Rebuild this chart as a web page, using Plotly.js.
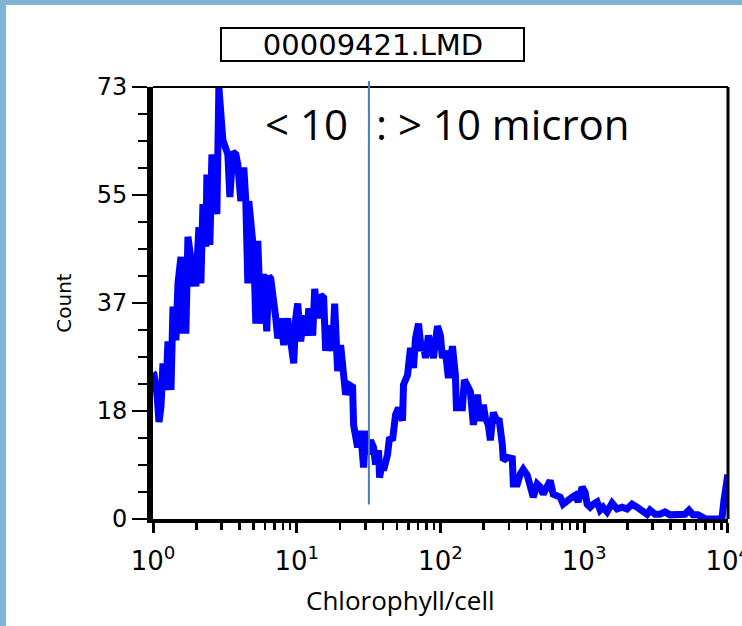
<!DOCTYPE html>
<html>
<head>
<meta charset="utf-8">
<script src="https://cdn.plot.ly/plotly-3.0.1.min.js"></script>
<style>
  html, body { margin: 0; padding: 0; background: #ffffff; }
  #chart { width: 742px; height: 626px; }
</style>
</head>
<body>
<div id="chart"></div>
<script>
// ---- data ----
const fileName = "00009421.LMD";
const xTitle = "Chlorophyll/cell";
const yTitle = "Count";
const leftLabel = "< 10";
const rightLabel = ": > 10 micron";

// chlorophyll per cell (log axis)
const chlorophyll = [
  1.000, 1.016, 1.066, 1.101, 1.137, 1.173, 1.231, 1.271, 1.334, 1.377,
  1.444, 1.492, 1.565, 1.616, 1.695, 1.750, 1.836, 1.896, 1.926, 1.988,
  2.086, 2.154, 2.225, 2.334, 2.371, 2.488, 2.569, 2.653, 2.783, 2.873,
  3.063, 3.213, 3.318, 3.426, 3.594, 3.771, 3.893, 4.084, 4.285, 4.424,
  4.568, 4.642, 4.793, 5.028, 5.192, 5.361, 5.623, 5.899, 6.189, 6.390,
  6.598, 6.813, 7.147, 7.380, 7.743, 8.122, 8.660, 9.085, 9.532, 9.841,
  10.16, 10.66, 11.18, 11.92, 12.12, 12.92, 13.34, 13.99, 14.68, 15.40,
  15.90, 16.68, 17.78, 18.36, 19.26, 20.21, 21.20, 21.89, 22.97, 24.48,
  24.88, 26.53, 27.83, 29.20, 30.15, 31.62, 32.65, 34.25, 35.37, 37.11,
  37.71, 39.56, 40.19, 42.85, 44.24, 46.42, 48.70, 51.10, 54.48, 55.36,
  59.02, 61.90, 64.94, 67.06, 70.36, 73.81, 76.21, 78.68, 82.54, 88.01,
  89.43, 95.35, 100.0, 103.2, 108.3, 113.6, 117.3, 121.2, 127.1, 129.2,
  142.2, 146.8, 156.5, 161.6, 169.5, 180.7, 189.6, 198.9, 205.4, 215.4,
  222.5, 233.4, 244.8, 256.8, 269.5, 273.8, 291.9, 316.2, 321.4, 342.6,
  359.4, 377.0, 401.9, 421.7, 442.4, 471.6, 494.9, 519.2, 553.5, 580.7,
  609.2, 649.4, 681.3, 714.7, 762.0, 825.4, 865.9, 908.5, 968.5, 1016,
  1049, 1101, 1155, 1231, 1292, 1355, 1444, 1516, 1565, 1695,
  1836, 1988, 2154, 2334, 2528, 2738, 2873, 3113, 3372, 3652,
  3956, 4285, 4642, 5028, 5361, 5714, 6190, 6598, 7036, 7743,
  8522, 9085, 9380, 9841, 10000
];

// event count per channel
const counts = [
  24.7, 24.5, 21.0, 16.4, 19.0, 26.3, 21.8, 30.0, 21.8, 35.9,
  30.2, 39.8, 44.3, 31.9, 31.9, 47.7, 44.0, 39.3, 44.3, 39.3,
  49.3, 39.8, 53.2, 46.0, 58.2, 46.3, 61.6, 58.7, 51.5, 73.0,
  64.0, 62.0, 61.6, 54.4, 62.0, 61.6, 59.9, 53.7, 59.4, 53.7,
  39.8, 53.7, 48.7, 45.0, 33.0, 47.0, 33.0, 41.4, 31.7, 41.0,
  40.6, 36.7, 34.0, 30.5, 33.9, 29.4, 33.9, 30.0, 26.3, 33.9,
  36.4, 30.0, 34.4, 31.0, 35.6, 31.0, 38.9, 33.9, 37.8, 37.4,
  28.4, 32.7, 28.4, 36.4, 25.0, 29.4, 25.0, 21.0, 22.7, 22.3,
  15.9, 12.1, 14.9, 8.7, 14.9, 10.9, 13.3, 12.1, 9.2, 11.6,
  7.0, 9.9, 8.2, 10.9, 13.8, 13.3, 17.6, 18.8, 16.6, 22.7,
  24.3, 28.9, 25.5, 30.5, 33.0, 28.4, 29.4, 27.2, 31.0, 28.4,
  27.2, 32.6, 31.0, 27.2, 28.4, 23.8, 26.7, 29.2, 24.3, 18.8,
  18.8, 23.5, 22.2, 21.5, 15.9, 21.0, 16.6, 19.3, 17.1, 15.9,
  13.3, 18.0, 16.8, 16.6, 12.6, 9.9, 10.4, 10.2, 5.9, 5.9,
  7.6, 8.4, 7.4, 5.4, 3.7, 5.9, 5.4, 4.2, 5.9, 6.5,
  4.2, 4.0, 3.7, 2.5, 3.2, 3.7, 4.0, 2.9, 5.4, 4.5,
  2.5, 2.0, 2.5, 2.9, 1.5, 2.0, 1.2, 2.2, 2.7, 1.7,
  2.0, 1.7, 2.5, 2.0, 1.5, 0.8, 1.5, 0.8, 0.8, 1.2,
  0.7, 0.8, 0.7, 0.8, 1.5, 0.7, 0.7, 0.2, 0, 0,
  0, 0, 3.0, 6.5, 7.5
];

// size threshold (10 micron) on the chlorophyll axis
const threshold = 31.8;

// axis ticks
const xTickVals = [1, 10, 100, 1000, 10000];
const xTickText = ["10<sup>0</sup>", "10<sup>1</sup>", "10<sup>2</sup>", "10<sup>3</sup>", "10<sup>4</sup>"];
const xMinorVals = [
  2, 3, 4, 5, 6, 7, 8, 9,
  20, 30, 40, 50, 60, 70, 80, 90,
  200, 300, 400, 500, 600, 700, 800, 900,
  2000, 3000, 4000, 5000, 6000, 7000, 8000, 9000
];
const yTickVals = [0, 18.25, 36.5, 54.75, 73];
const yTickText = ["0", "18", "37", "55", "73"];
const yMinorVals = [4.5625, 9.125, 13.6875, 22.8125, 27.375, 31.9375,
                    41.0625, 45.625, 50.1875, 59.3125, 63.875, 68.4375];

// ---- chart ----
const trace = {
  type: "scatter",
  mode: "lines",
  x: chlorophyll,
  y: counts,
  line: { color: "rgb(0,0,255)", width: 7 },
  hoverinfo: "skip"
};

const frameBlue = "#80b3d4";

const layout = {
  width: 742,
  height: 626,
  margin: { l: 153, r: 14, t: 87, b: 107, pad: 0 },
  paper_bgcolor: "#ffffff",
  plot_bgcolor: "#ffffff",
  showlegend: false,
  title: {
    text: fileName,
    font: { family: "DejaVu Sans", size: 29, color: "#000000" },
    xref: "container", x: 373 / 742, xanchor: "center",
    yref: "container", y: 1 - 45 / 626, yanchor: "middle"
  },
  xaxis: {
    type: "log",
    range: [0, 4.001],
    showgrid: false,
    zeroline: false,
    showline: true,
    linecolor: "#000000",
    linewidth: 4,
    ticks: "outside",
    ticklen: 10,
    tickwidth: 3,
    tickcolor: "#000000",
    tickmode: "array",
    tickvals: xTickVals,
    ticktext: xTickText,
    ticklabeloverflow: "allow",
    tickfont: { family: "DejaVu Sans", size: 26, color: "#000000" },
    ticklabelstandoff: 6,
    minor: {
      tickmode: "array",
      tickvals: xMinorVals,
      ticks: "outside",
      ticklen: 7,
      tickwidth: 2.5,
      tickcolor: "#000000",
      showgrid: false
    }
  },
  yaxis: {
    range: [0, 73],
    showgrid: false,
    zeroline: false,
    showline: true,
    linecolor: "#000000",
    linewidth: 6,
    ticks: "outside",
    ticklen: 15,
    tickwidth: 2,
    tickcolor: "#000000",
    tickmode: "array",
    tickvals: yTickVals,
    ticktext: yTickText,
    ticklabeloverflow: "allow",
    tickfont: { family: "DejaVu Sans", size: 24, color: "#000000" },
    minor: {
      tickmode: "array",
      tickvals: yMinorVals,
      ticks: "outside",
      ticklen: 9,
      tickwidth: 2,
      tickcolor: "#000000",
      showgrid: false
    },
    title: {
      text: yTitle,
      font: { family: "DejaVu Sans", size: 20, color: "#000000" },
      standoff: 22
    }
  },
  shapes: [
    // light blue frame strips (left and top)
    { type: "rect", xref: "paper", yref: "paper",
      x0: -153 / 575, x1: -147 / 575, y0: -107 / 432, y1: 519 / 432,
      fillcolor: frameBlue, line: { width: 0 }, layer: "above" },
    { type: "rect", xref: "paper", yref: "paper",
      x0: -153 / 575, x1: 589 / 575, y0: 514 / 432, y1: 519 / 432,
      fillcolor: frameBlue, line: { width: 0 }, layer: "above" },
    // plot frame: top and right
    { type: "line", xref: "paper", yref: "paper", x0: 0, x1: 1, y0: 1, y1: 1,
      line: { color: "#000000", width: 2 } },
    { type: "line", xref: "paper", yref: "paper", x0: 1, x1: 1, y0: 0, y1: 1,
      line: { color: "#000000", width: 3 } },
    // title box
    { type: "rect", xref: "paper", yref: "paper",
      x0: (221 - 153) / 575, x1: (524 - 153) / 575,
      y0: (519 - 61) / 432, y1: (519 - 28) / 432,
      line: { color: "#000000", width: 2 }, fillcolor: "rgba(0,0,0,0)" },
    // 10 micron threshold
    { type: "line", xref: "x", yref: "paper",
      x0: threshold, x1: threshold,
      y0: (519 - 504.5) / 432, y1: (519 - 81) / 432,
      line: { color: "#4a7ebb", width: 2 } }
  ],
  annotations: [
    { text: leftLabel, xref: "paper", yref: "paper",
      x: (350 - 153) / 575, xanchor: "right",
      y: (519 - 123) / 432, yanchor: "middle",
      showarrow: false,
      font: { family: "Open Sans", size: 42, color: "#000000" } },
    { text: rightLabel, xref: "paper", yref: "paper",
      x: (374 - 153) / 575, xanchor: "left",
      y: (519 - 123) / 432, yanchor: "middle",
      showarrow: false,
      font: { family: "Open Sans", size: 42, color: "#000000" } },
    { text: xTitle, xref: "paper", yref: "paper",
      x: (400 - 153) / 575, xanchor: "center",
      y: (519 - 600) / 432, yanchor: "middle",
      showarrow: false,
      font: { family: "Open Sans", size: 26, color: "#000000" } }
  ]
};

Plotly.newPlot("chart", [trace], layout, { displayModeBar: false, staticPlot: true });
</script>
</body>
</html>
